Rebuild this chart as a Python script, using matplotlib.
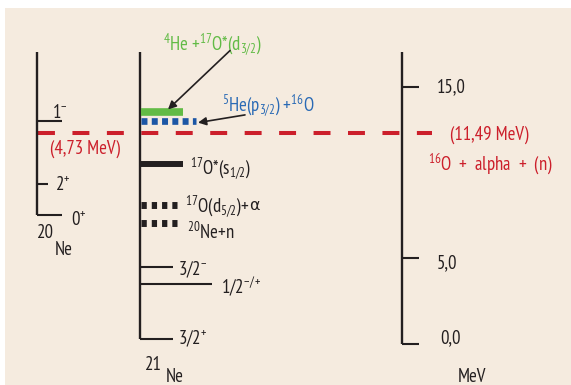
import matplotlib
matplotlib.use("Agg")
import matplotlib.pyplot as plt
from matplotlib import font_manager as fm
from matplotlib.patches import Rectangle

# pick a condensed sans that is installed
have = {f.name for f in fm.fontManager.ttflist}
narrow = next((n for n in ['PT Sans Narrow', 'Fira Sans Condensed', 'Roboto Condensed',
                           'Open Sans Condensed', 'Encode Sans Condensed',
                           'Liberation Sans Narrow', 'DejaVu Sans Condensed']
               if n in have), 'DejaVu Sans')

plt.rcParams['font.family'] = [narrow, 'DejaVu Sans']
plt.rcParams['mathtext.fontset'] = 'custom'
plt.rcParams['mathtext.rm'] = narrow
plt.rcParams['mathtext.it'] = narrow
plt.rcParams['mathtext.default'] = 'regular'
plt.rcParams['lines.scale_dashes'] = False

# energies as drawn on the picture's MeV scale
scale_ticks = [0.0, 5.0, 15.0]
scale_labels = ['0,0', '5,0', '15,0']
axis_top = 17.0

ne20_levels = [13.01, 9.32, 7.52]
ne20_spins = [r'$1^{-}$', r'$2^{+}$', r'$0^{+}$']

ne21_levels = [4.50, 3.50, 0.27]
ne21_spins = [r'$3/2^{-}$', r'$1/2^{-/+}$', r'$3/2^{+}$']

he4_o17 = 13.52      # 4He + 17O*(d3/2)
he5_o16 = 13.00      # 5He(p3/2) + 16O
o17_s12 = 10.51      # 17O*(s1/2)
o17_d52 = 8.10       # 17O(d5/2) + alpha
ne20_n = 7.08        # 20Ne + n
threshold = 12.27    # 16O + alpha + (n)

DARK = '#231f20'
RED = '#cc1f2b'
GREEN = '#62bb46'
BLUE = '#1c56a5'
BLUE_TXT = '#2a6ab5'
BEIGE = '#f5ebdf'

fig = plt.figure(figsize=(5.71, 3.85), dpi=100)
fig.patch.set_facecolor('white')
fig.patches.append(Rectangle((5 / 571, 0), 1, 377 / 385, transform=fig.transFigure,
                             facecolor=BEIGE, edgecolor='none', zorder=-5))

ax = fig.add_axes([0, 0, 1, 1])
ax.set_facecolor('none')
ax.axis('off')
ax.set_xlim(0, 571)
ax.set_ylim(-41 / 17.16, 344 / 17.16)

FS = 13.5
dy = -0.12   # small nudge so centred labels sit like the original

# 20Ne column
x20 = 37
ax.plot([x20, x20], [ne20_levels[-1], axis_top], color=DARK, lw=1.7, solid_capstyle='butt')
for lev, ln in zip(ne20_levels, [62, 48, 62]):
    ax.plot([x20, ln], [lev, lev], color=DARK, lw=1.5, solid_capstyle='butt')
ax.text(52, ne20_levels[0] + 0.55 + dy, ne20_spins[0], fontsize=FS, color=DARK, va='center')
ax.text(55, ne20_levels[1] + 0.05 + dy, ne20_spins[1], fontsize=FS, color=DARK, va='center')
ax.text(71, ne20_levels[2] - 0.2 + dy, ne20_spins[2], fontsize=FS, color=DARK, va='center')
ax.text(37, ne20_levels[2] - 0.95 + dy, '20', fontsize=FS, color=DARK, va='center')
ax.text(55, ne20_levels[2] - 1.9 + dy, 'Ne', fontsize=FS, color=DARK, va='center')

# 21Ne column
x21 = 140
ax.plot([x21, x21], [ne21_levels[-1], axis_top], color=DARK, lw=1.7, solid_capstyle='butt')
for lev, ln in zip(ne21_levels, [173, 212, 173]):
    ax.plot([x21, ln], [lev, lev], color=DARK, lw=1.5, solid_capstyle='butt')
ax.text(178, ne21_levels[0] - 0.05 + dy, ne21_spins[0], fontsize=FS, color=DARK, va='center')
ax.text(221, ne21_levels[1] - 0.1 + dy, ne21_spins[1], fontsize=FS, color=DARK, va='center')
ax.text(178, ne21_levels[2] + 0.15 + dy, ne21_spins[2], fontsize=FS, color=DARK, va='center')
ax.text(145, ne21_levels[2] - 1.35 + dy, '21', fontsize=FS, color=DARK, va='center')
ax.text(166, ne21_levels[2] - 2.05 + dy, 'Ne', fontsize=FS, color=DARK, va='center')

# channel bars
ax.plot([141, 183], [he4_o17, he4_o17], color=GREEN, lw=5.5, solid_capstyle='butt')
ax.plot([141, 196], [he5_o16, he5_o16], color=BLUE, lw=4.8, dashes=(4.3, 3.1),
        dash_capstyle='butt')
ax.plot([141, 183], [o17_s12, o17_s12], color=DARK, lw=4.3, solid_capstyle='butt')
ax.plot([141, 177], [o17_d52, o17_d52], color=DARK, lw=5.0, dashes=(3.8, 3.6),
        dash_capstyle='butt')
ax.plot([141, 177], [ne20_n, ne20_n], color=DARK, lw=5.0, dashes=(3.8, 3.6),
        dash_capstyle='butt')

ax.text(190, o17_s12 - 0.15 + dy, r'$^{17}$O*(s$_{1/2}$)', fontsize=FS, color=DARK, va='center')
d52 = ax.text(185, o17_d52 + 0.05 + dy, r'$^{17}$O(d$_{5/2}$)+', fontsize=FS, color=DARK,
              va='center')
# the condensed face has no Greek, so alpha comes from another family
ax.annotate('α', xy=(1.0, 0.22), xycoords=d52, fontsize=FS - 2, color=DARK,
            family='DejaVu Sans Condensed' if 'DejaVu Sans Condensed' in have else 'DejaVu Sans',
            va='bottom', ha='left')
ax.text(187, ne20_n - 0.45 + dy, r'$^{20}$Ne+n', fontsize=FS, color=DARK, va='center')

ax.text(163, 17.6 + dy, r'$^{4}$He +$^{17}$O*(d$_{3/2}$)', fontsize=FS, color=GREEN,
        va='center')
ax.text(222, 14.05 + dy, r'$^{5}$He(p$_{3/2}$) +$^{16}$O', fontsize=FS, color=BLUE_TXT,
        va='center')

ax.annotate('', xy=(168, he4_o17 + 0.15), xytext=(230, 17.1),
            arrowprops=dict(arrowstyle='-|>', color=DARK, lw=1.2, mutation_scale=12,
                            shrinkA=0, shrinkB=0))
ax.annotate('', xy=(198, he5_o16 - 0.1), xytext=(245, 13.35),
            arrowprops=dict(arrowstyle='-|>', color=DARK, lw=1.2, mutation_scale=12,
                            shrinkA=0, shrinkB=0))

# energy scale
xs = 402
ax.plot([xs, xs], [scale_ticks[0], axis_top], color=DARK, lw=1.7, solid_capstyle='butt')
for t in scale_ticks:
    ax.plot([xs, 419], [t, t], color=DARK, lw=1.5, solid_capstyle='butt')
ax.text(437, scale_ticks[2] + 0.1 + dy, scale_labels[2], fontsize=FS, color=DARK, va='center')
ax.text(437, scale_ticks[1] - 0.15 + dy, scale_labels[1], fontsize=FS, color=DARK, va='center')
ax.text(440, scale_ticks[0] + 0.45 + dy, scale_labels[0], fontsize=FS, color=DARK, va='center')
ax.text(458, scale_ticks[0] - 1.8 + dy, 'MeV', fontsize=FS, color=DARK, va='center')

# threshold line
ax.plot([38, 432], [threshold, threshold], color=RED, lw=2.9, dashes=(12.2, 12.6),
        dash_capstyle='butt', zorder=1)
ax.text(50, threshold - 0.75 + dy, '(4,73 MeV)', fontsize=FS, color=RED, va='center')
ax.text(450, threshold + 0.05 + dy, '(11,49 MeV)', fontsize=FS, color=RED, va='center')
ax.text(428, threshold - 1.65 + dy, r'$^{16}$O  +  alpha  +  (n)', fontsize=FS, color=RED,
        va='center')

fig.savefig('out.png', dpi=100)
